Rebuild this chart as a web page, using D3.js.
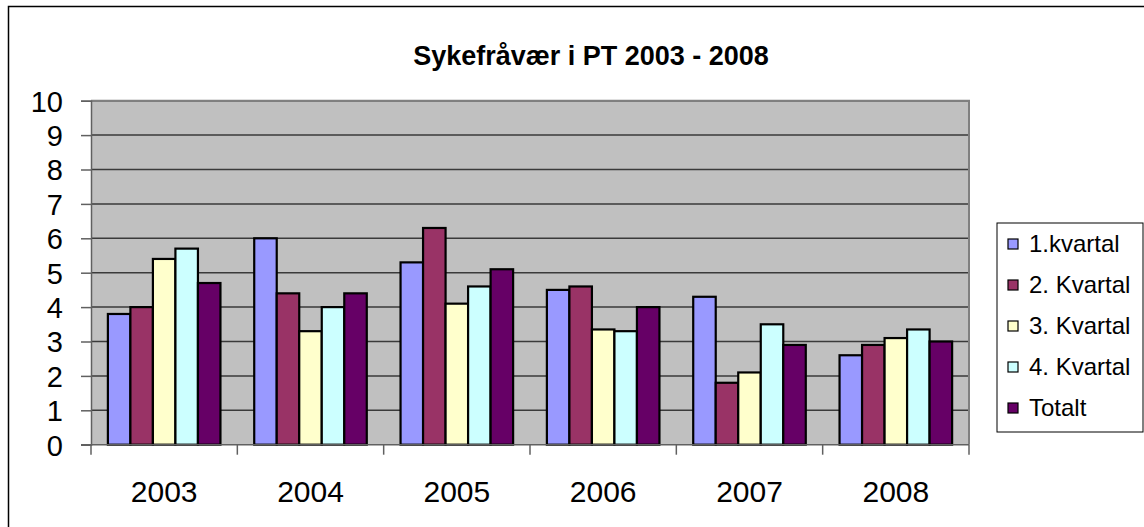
<!DOCTYPE html>
<html>
<head>
<meta charset="utf-8">
<script src="https://cdn.jsdelivr.net/npm/d3@7"></script>
<style>
  html, body { margin: 0; padding: 0; background: #fff; }
  svg { display: block; font-family: "Liberation Sans", Arial, sans-serif; }
</style>
</head>
<body>
<svg id="chart" width="1144" height="527"></svg>
<script>
const title = "Sykefråvær i PT 2003 - 2008";
const years = ["2003", "2004", "2005", "2006", "2007", "2008"];
const seriesNames = ["1.kvartal", "2. Kvartal", "3. Kvartal", "4. Kvartal", "Totalt"];
const q1 = [3.8, 6.0, 5.3, 4.5, 4.3, 2.6];
const q2 = [4.0, 4.4, 6.3, 4.6, 1.8, 2.9];
const q3 = [5.4, 3.3, 4.1, 3.35, 2.1, 3.1];
const q4 = [5.7, 4.0, 4.6, 3.3, 3.5, 3.35];
const totalt = [4.7, 4.4, 5.1, 4.0, 2.9, 3.0];
const yTicks = [0, 1, 2, 3, 4, 5, 6, 7, 8, 9, 10];
const colors = ["#9999FF", "#993366", "#FFFFCC", "#CCFFFF", "#660066"];

const seriesValues = [q1, q2, q3, q4, totalt];

const svg = d3.select("#chart");
const plot = { left: 91, right: 969, top: 100.7, bottom: 444.7 };

// outer chart border
svg.append("rect").attr("x", 8.5).attr("y", 6.5).attr("width", 1140).attr("height", 540)
  .attr("fill", "#fff").attr("stroke", "#000").attr("stroke-width", 1.5);

const x = d3.scaleBand().domain(years).range([plot.left, plot.right]).paddingInner(0).paddingOuter(0);
const xs = d3.scaleBand().domain(seriesNames).range([0, x.bandwidth()]).paddingInner(0).paddingOuter(0.75);
const y = d3.scaleLinear().domain([0, 10]).range([plot.bottom, plot.top]);

// plot background
svg.append("rect").attr("x", plot.left).attr("y", plot.top)
  .attr("width", plot.right - plot.left).attr("height", plot.bottom - plot.top)
  .attr("fill", "#C0C0C0");

// gridlines
svg.append("g").selectAll("line").data(yTicks.filter(t => t > 0)).join("line")
  .attr("x1", plot.left).attr("x2", plot.right)
  .attr("y1", d => y(d)).attr("y2", d => y(d))
  .attr("stroke", "#3a3a3a").attr("stroke-width", 1.5);

// plot border (right/top)
svg.append("path")
  .attr("d", `M${plot.left},${plot.top}H${plot.right}V${plot.bottom}`)
  .attr("fill", "none").attr("stroke", "#808080").attr("stroke-width", 2);

// bars
const data = [];
years.forEach((yr, i) => seriesNames.forEach((s, j) => data.push({ yr, s, j, v: seriesValues[j][i] })));
svg.append("g").selectAll("rect").data(data).join("rect")
  .attr("x", d => x(d.yr) + xs(d.s))
  .attr("y", d => y(d.v))
  .attr("width", xs.bandwidth())
  .attr("height", d => y(0) - y(d.v))
  .attr("fill", d => colors[d.j])
  .attr("stroke", "#000").attr("stroke-width", 2.2);

// y axis
const yAxis = d3.axisLeft(y).tickValues(yTicks).tickSize(10).tickPadding(18).tickFormat(d3.format("d"));
const gy = svg.append("g").attr("transform", `translate(${plot.left},0)`).call(yAxis);
gy.select(".domain").attr("stroke", "#606060").attr("stroke-width", 1.5);
gy.selectAll(".tick line").attr("stroke", "#606060").attr("stroke-width", 1.5);
gy.selectAll(".tick text").attr("font-size", 29).attr("fill", "#000")
  .attr("font-family", "Liberation Sans, Arial, sans-serif").attr("dy", "0.36em");

// x axis: ticks at category boundaries
const gx = svg.append("g");
gx.append("line").attr("x1", plot.left - 10).attr("x2", plot.right)
  .attr("y1", plot.bottom).attr("y2", plot.bottom)
  .attr("stroke", "#606060").attr("stroke-width", 1.5);
const boundaries = years.map(yr => x(yr)).concat([x(years[years.length - 1]) + x.bandwidth()]);
gx.selectAll("line.tk").data(boundaries).join("line").attr("class", "tk")
  .attr("x1", d => d).attr("x2", d => d)
  .attr("y1", plot.bottom).attr("y2", plot.bottom + 10)
  .attr("stroke", "#606060").attr("stroke-width", 1.5);
gx.selectAll("text").data(years).join("text")
  .attr("x", d => x(d) + x.bandwidth() / 2).attr("y", 502)
  .attr("text-anchor", "middle").attr("font-size", 30).attr("fill", "#000")
  .text(d => d);

// title
svg.append("text").attr("x", 591).attr("y", 65).attr("text-anchor", "middle")
  .attr("font-size", 27).attr("font-weight", "bold").attr("fill", "#000").text(title);

// legend
const lg = svg.append("g");
lg.append("rect").attr("x", 997).attr("y", 223).attr("width", 146).attr("height", 209)
  .attr("fill", "#fff").attr("stroke", "#000").attr("stroke-width", 1);
const rowY = i => 244 + i * 41;
lg.selectAll("rect.mk").data(seriesNames).join("rect").attr("class", "mk")
  .attr("x", 1008).attr("y", (d, i) => rowY(i) - 5).attr("width", 10).attr("height", 10)
  .attr("fill", (d, i) => colors[i]).attr("stroke", "#000").attr("stroke-width", 1.2);
lg.selectAll("text").data(seriesNames).join("text")
  .attr("x", 1029).attr("y", (d, i) => rowY(i)).attr("dy", "0.35em")
  .attr("font-size", 24).attr("fill", "#000").text(d => d);
</script>
</body>
</html>
